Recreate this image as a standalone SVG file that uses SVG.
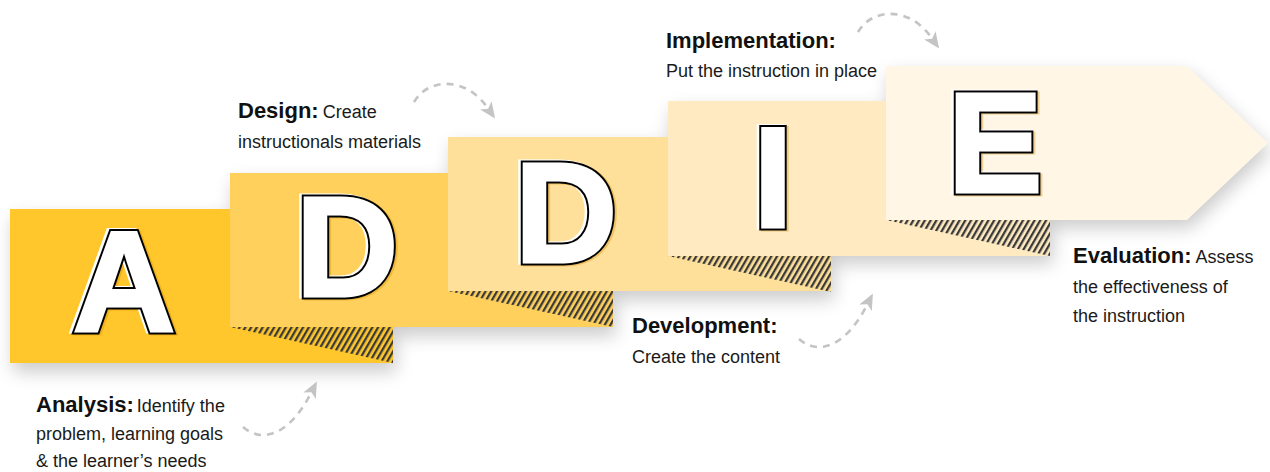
<svg xmlns="http://www.w3.org/2000/svg" width="1270" height="472" viewBox="0 0 1270 472">
  <defs>
    <style>
      .hd { font-family: "Liberation Sans", Arial, sans-serif; font-weight: 700; font-size: 22px; fill: #111; }
      .tx { font-family: "Liberation Sans", Arial, sans-serif; font-weight: 400; font-size: 18px; fill: #1a1a1a; }
      .big { font-family: "Liberation Sans", Arial, sans-serif; font-weight: 700; font-size: 142px; text-anchor: middle; stroke-linejoin: miter; stroke-miterlimit: 6; }
      .l-back { fill: #d68c00; stroke: #d68c00; stroke-width: 7; opacity: 0.35; }
      .l-hi { fill: #ffffff; stroke: #ffffff; stroke-width: 7; }
      .l-ring { fill: #000000; stroke: #000000; stroke-width: 7; }
      .l-face { fill: #ffffff; stroke: #ffffff; stroke-width: 3; }
      .hatch { fill: url(#hatch); }
      .dash { fill: none; stroke: #c4c4c4; stroke-width: 2.6; stroke-dasharray: 7 6; marker-end: url(#head); }
    </style>
    <pattern id="hatch" width="5" height="10" patternUnits="userSpaceOnUse" patternTransform="rotate(30)">
      <rect width="2.3" height="10" fill="#3a3a3a"/>
    </pattern>
    <marker id="head" markerUnits="userSpaceOnUse" viewBox="0 0 16 14" markerWidth="16" markerHeight="14" refX="2" refY="7" orient="auto">
      <path d="M0,0 L16,7 L0,14 L4,7 Z" fill="#c4c4c4"/>
    </marker>
    <filter id="soft" x="-10%" y="-20%" width="120%" height="150%">
      <feGaussianBlur stdDeviation="9"/>
    </filter>
    <!-- letter glyphs, placed with <use> -->
    <text id="gA" class="big" x="0" y="0">A</text>
    <text id="gD" class="big" x="0" y="0">D</text>
    <text id="gI" class="big" x="0" y="0">I</text>
    <text id="gE" class="big" x="0" y="0">E</text>
    <!-- dashed connector shapes -->
    <path id="hop-over" d="M414,102 C428,78 465,76 487,107"/>
    <path id="hop-up" d="M243,427 C265,446 292,430 310.5,394"/>
  </defs>

  <!-- soft shadow under the whole staircase -->
  <g id="staircase-shadow" opacity="0.2" filter="url(#soft)" transform="translate(3,8)">
    <rect x="10" y="209" width="383" height="155" fill="#000"/>
    <rect x="230" y="173" width="383" height="155" fill="#000"/>
    <rect x="448" y="137" width="383" height="155" fill="#000"/>
    <rect x="668" y="101" width="382" height="155" fill="#000"/>
    <polygon points="886,66 1187,66 1268,143 1187,220 886,220" fill="#000"/>
  </g>

  <!-- A : Analysis -->
  <g id="node-analysis">
    <rect x="10" y="209" width="383" height="154" fill="#ffc72c"/>
    <use href="#gA" x="126" y="332" class="l-back"/>
    <use href="#gA" x="121.5" y="330" class="l-hi"/>
    <use href="#gA" x="124" y="331" class="l-ring"/>
    <use href="#gA" x="124" y="331" class="l-face"/>
    <text class="hd" x="36" y="412">Analysis:<tspan class="tx" dx="3">Identify the</tspan></text>
    <text class="tx" x="36" y="440">problem, learning goals</text>
    <text class="tx" x="36" y="467">&amp; the learner’s needs</text>
  </g>

  <!-- D : Design -->
  <g id="node-design">
    <polygon class="hatch" points="230,327 393,327 393,363"/>
    <rect x="230" y="173" width="383" height="154" fill="#ffd15c"/>
    <use href="#gD" x="349" y="297" class="l-back"/>
    <use href="#gD" x="344.5" y="295" class="l-hi"/>
    <use href="#gD" x="347" y="296" class="l-ring"/>
    <use href="#gD" x="347" y="296" class="l-face"/>
    <text class="hd" x="238" y="118">Design:<tspan class="tx" dx="4">Create</tspan></text>
    <text class="tx" x="238" y="148">instructionals materials</text>
  </g>

  <!-- D : Development -->
  <g id="node-development">
    <polygon class="hatch" points="448,291 613,291 613,327"/>
    <rect x="448" y="137" width="383" height="154" fill="#ffe09b"/>
    <use href="#gD" x="568" y="263" class="l-back"/>
    <use href="#gD" x="563.5" y="261" class="l-hi"/>
    <use href="#gD" x="566" y="262" class="l-ring"/>
    <use href="#gD" x="566" y="262" class="l-face"/>
    <text class="hd" x="632" y="333">Development:</text>
    <text class="tx" x="632" y="363">Create the content</text>
  </g>

  <!-- I : Implementation -->
  <g id="node-implementation">
    <polygon class="hatch" points="668,256 831,256 831,292"/>
    <rect x="668" y="101" width="382" height="155" fill="#ffeac2"/>
    <use href="#gI" x="775" y="228" class="l-back"/>
    <use href="#gI" x="770.5" y="226" class="l-hi"/>
    <use href="#gI" x="773" y="227" class="l-ring"/>
    <use href="#gI" x="773" y="227" class="l-face"/>
    <text class="hd" x="666" y="48">Implementation:</text>
    <text class="tx" x="666" y="77">Put the instruction in place</text>
  </g>

  <!-- E : Evaluation -->
  <g id="node-evaluation">
    <polygon class="hatch" points="886,220 1050,220 1050,256"/>
    <polygon points="886,66 1187,66 1268,143 1187,220 886,220" fill="#fff6e6"/>
    <use href="#gE" x="997" y="193" class="l-back"/>
    <use href="#gE" x="992.5" y="191" class="l-hi"/>
    <use href="#gE" x="995" y="192" class="l-ring"/>
    <use href="#gE" x="995" y="192" class="l-face"/>
    <text class="hd" x="1073" y="263">Evaluation:<tspan class="tx" dx="4">Assess</tspan></text>
    <text class="tx" x="1073" y="293">the effectiveness of</text>
    <text class="tx" x="1073" y="322">the instruction</text>
  </g>

  <!-- dashed step connectors -->
  <g id="connectors">
    <use href="#hop-up" class="dash"/>
    <use href="#hop-over" class="dash"/>
    <use href="#hop-up" class="dash" transform="translate(556,-88)"/>
    <use href="#hop-over" class="dash" transform="translate(444,-70)"/>
  </g>
</svg>
